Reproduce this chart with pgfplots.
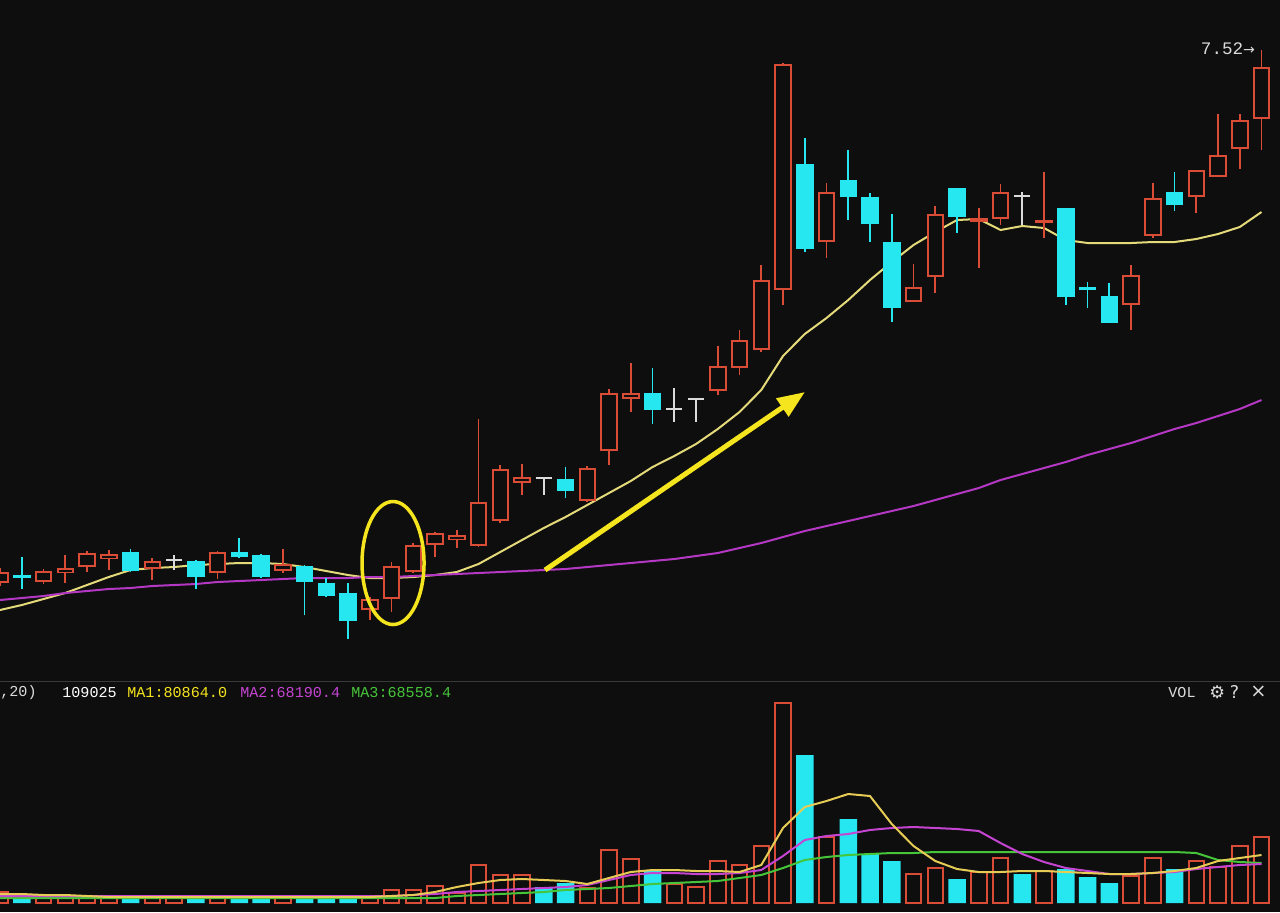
\documentclass[border=0pt]{standalone}
\usepackage{pgfplots}
\usepackage{pgfplotstable}
\pgfplotsset{compat=1.18}
\usepackage{fontspec}
\setmonofont{Liberation Mono}
\newfontfamily\symfont{DejaVu Sans}
\usetikzlibrary{arrows.meta}

\definecolor{bg}{HTML}{0E0E0E}
\definecolor{upred}{HTML}{D94C36}
\definecolor{dncyan}{HTML}{26E6F0}
\definecolor{flatw}{HTML}{DADADA}
\definecolor{maone}{HTML}{E4DA7A}
\definecolor{matwo}{HTML}{B438C4}
\definecolor{vma1}{HTML}{E6CC55}
\definecolor{vma2}{HTML}{C544D2}
\definecolor{vma3}{HTML}{46C43A}
\definecolor{hilite}{HTML}{F5E51E}
\definecolor{sepgray}{HTML}{3A3A3A}

% candles, pixel y from the top of the chart: i high low bodytop bodybottom
\pgfplotstableread{
i h l t b
0 568 586 572 583
2 569 584 571 582
3 555 583 568 573
4 551 572 553 567
5 550 570 554 559
7 558 580 561 569
10 551 579 552 573
13 549 573 564 571
17 597 620 599 610
18 562 612 566 599
19 543 573 545 572
20 532 557 533 545
21 530 548 535 540
22 419 547 502 546
23 465 523 469 521
24 464 495 477 483
27 466 502 468 501
28 389 465 393 451
29 363 412 393 399
33 346 395 366 391
34 330 375 340 368
35 265 352 280 350
36 63 305 64 290
38 183 258 192 242
42 264 302 287 302
43 206 293 214 277
45 208 268 218 222
46 184 225 192 219
48 172 238 220 223
52 265 330 275 305
53 183 238 198 236
55 170 213 170 197
56 114 177 155 177
57 114 169 120 149
58 50 150 67 119
}\upk
\pgfplotstableread{
i h l t b
1 557 589 575 578
6 549 572 552 571
9 560 589 561 577
11 538 558 552 557
12 554 578 555 577
14 565 615 566 582
15 578 597 583 596
16 583 639 593 621
26 467 498 479 491
30 368 424 393 410
37 138 252 164 249
39 150 220 180 197
40 193 242 197 224
41 214 322 242 308
44 188 233 188 217
49 208 305 208 297
50 282 308 287 290
51 283 323 296 323
54 172 211 192 205
}\dnk
\pgfplotstableread{
i h l t b
8 555 570 559 561
25 477 495 477 479
31 388 422 408 410
32 398 422 398 400
47 192 225 195 197
}\flatk
\pgfplotstableread{
i ma1 ma2
0 610 600
1 605 598
2 599 596
3 593 593
4 585 591
5 577 589
6 570 588
7 568 586
8 567 585
9 565 584
10 564 582
11 563 581
12 563 580
13 564 579
14 567 578
15 571 578
16 575 578
17 578 577
18 578 577
19 577 576
20 575 575
21 572 574
22 564 573
23 552 572
24 540 571
25 528 570
26 517 569
27 505 567
28 493 565
29 481 563
30 467 561
31 456 559
32 444 556
33 429 553
34 412 548
35 390 543
36 356 537
37 334 531
38 318 526
39 300 521
40 280 516
41 262 511
42 245 506
43 232 500
44 220 494
45 219 488
46 230 480
47 226 474
48 228 468
49 240 462
50 243 455
51 243 449
52 243 443
53 242 436
54 242 429
55 239 423
56 234 416
57 227 409
58 212 400
}\priceMA
% volume
\pgfplotstableread{
i v
0 11
2 6
3 6
4 5
5 5
7 5
8 5
10 5
13 7
17 5
18 13
19 13
20 17
21 10
22 38
23 28
24 28
27 15
28 53
29 44
31 19
32 16
33 42
34 38
35 57
36 200
38 66
42 29
43 35
45 31
46 45
48 32
52 27
53 45
55 42
56 36
57 57
58 66
}\volup
\pgfplotstableread{
i v
1 6
6 5
9 5
11 8
12 8
14 6
15 4
16 6
25 16
26 20
30 32
37 148
39 84
40 49
41 42
44 24
47 29
49 34
50 26
51 20
54 34
}\voldn
\pgfplotstableread{
i m1 m2 m3
0 9 7 5
1 9 7 5
2 8 7 5
3 8 7 5
4 7 7 5
5 6 7 5
6 6 7 5
7 6 7 5
8 6 7 5
9 6 7 5
10 6 7 5
11 6 7 5
12 6 7 5
13 6 7 5
14 6 7 5
15 6 7 5
16 6 7 5
17 6 7 5
18 7 7 5
19 8 8 5
20 11 9 5
21 16 11 7
22 20 12 8
23 23 13 9
24 24 14 10
25 23 15 11
26 22 16 13
27 19 18 14
28 25 23 15
29 31 28 17
30 33 30 19
31 33 30 20
32 32 29 21
33 32 29 22
34 31 30 25
35 38 33 28
36 75 47 35
37 96 63 43
38 102 67 46
39 109 69 48
40 107 73 49
41 79 75 50
42 57 76 50
43 42 75 51
44 34 74 51
45 31 72 51
46 31 60 51
47 32 49 51
48 32 41 51
49 31 35 51
50 30 32 51
51 29 29 51
52 29 29 51
53 30 30 51
54 32 31 51
55 35 34 50
56 42 36 43
57 45 38 41
58 48 39 40
}\volMA

\pgfplotsset{
  panel/.style={scale only axis, width=25.6cm, xmin=0, xmax=58.85,
    axis background/.style={fill=bg}, axis line style={draw=none},
    xtick=\empty, ytick=\empty},
  bar/.style 2 args={draw=none, no markers,
    error bars/.cd, y dir=both, y explicit, error mark=none,
    error bar style={line width=#2, draw=#1, solid}},
}
% wick = high..low, body = top..bottom
\newcommand{\wicks}[2]{\addplot[bar={#2}{0.035cm}] table[x=i, y expr={(\thisrow{h}+\thisrow{l})/2}, y error expr={(\thisrow{l}-\thisrow{h})/2}] {#1};}
\newcommand{\bodies}[3]{\addplot[bar={#2}{#3}] table[x=i, y expr={(\thisrow{t}+\thisrow{b})/2}, y error expr={max((\thisrow{b}-\thisrow{t})/2,1)}] {#1};}

\begin{document}
\begin{tikzpicture}
\begin{axis}[panel, anchor=north west, at={(0,0)}, height=13.62cm,
  ymin=0, ymax=681, y dir=reverse]
\addplot[maone, line width=0.04cm] table[x=i, y=ma1] {\priceMA};
\addplot[matwo, line width=0.04cm] table[x=i, y=ma2] {\priceMA};
\wicks{\upk}{upred}
\wicks{\dnk}{dncyan}
\wicks{\flatk}{flatw}
\bodies{\upk}{upred}{0.35cm}
\addplot[bar={bg}{0.27cm}] table[x=i, y expr={(\thisrow{t}+\thisrow{b})/2}, y error expr={max((\thisrow{b}-\thisrow{t})/2-2,0)}] {\upk};
\bodies{\dnk}{dncyan}{0.35cm}
\bodies{\flatk}{flatw}{0.32cm}
\draw[hilite, line width=0.07cm] (axis cs:18.07,563) ellipse [x radius=0.62cm, y radius=1.23cm];
\draw[hilite, line width=0.1cm, -{Triangle[length=0.55cm, width=0.42cm]}] (axis cs:25.06,570) -- (axis cs:37.01,392);
\node[anchor=west, inner sep=0, text=flatw, font=\ttfamily\fontsize{10}{11}\selectfont] at (axis cs:55.2,49) {7.52{\symfont\fontsize{8}{9}\selectfont→}};
\end{axis}
\begin{axis}[panel, anchor=north west, at={(0,-13.62cm)}, height=4.62cm,
  ymin=-9, ymax=222]
\draw[sepgray, line width=0.04cm] (rel axis cs:0,1) -- (rel axis cs:1,1);
\addplot[ybar, bar shift=0pt, bar width=0.31cm, draw=upred, fill=bg, line width=0.04cm] table[x=i, y=v] {\volup};
\addplot[ybar, bar shift=0pt, bar width=0.35cm, draw=none, fill=dncyan] table[x=i, y=v] {\voldn};
\addplot[vma3, line width=0.04cm] table[x=i, y=m3] {\volMA};
\addplot[vma2, line width=0.04cm] table[x=i, y=m2] {\volMA};
\addplot[vma1, line width=0.04cm] table[x=i, y=m1] {\volMA};
\begin{scope}[every node/.style={anchor=west, inner sep=0, font=\ttfamily\fontsize{8.6}{10}\selectfont}]
\node[text=flatw] at (rel axis cs:0,0.952) {,20)};
\node[text=white] at (rel axis cs:0.0484,0.952) {109025};
\node[text=hilite] at (rel axis cs:0.0992,0.952) {MA1:80864.0};
\node[text=vma2] at (rel axis cs:0.1875,0.952) {MA2:68190.4};
\node[text=vma3] at (rel axis cs:0.2742,0.952) {MA3:68558.4};
\node[text=flatw] at (rel axis cs:0.9125,0.952) {VOL};
\node[text=flatw, font=\symfont\fontsize{10}{11}\selectfont] at (rel axis cs:0.9445,0.952) {⚙};
\node[text=flatw, font=\symfont\fontsize{10}{11}\selectfont] at (rel axis cs:0.9605,0.952) {?};
\node[text=flatw, font=\symfont\fontsize{11}{12}\selectfont] at (rel axis cs:0.9765,0.952) {×};
\end{scope}
\end{axis}
\pgfresetboundingbox
\path[use as bounding box] (0,0) rectangle (25.6cm,-18.24cm);
\end{tikzpicture}
\end{document}
